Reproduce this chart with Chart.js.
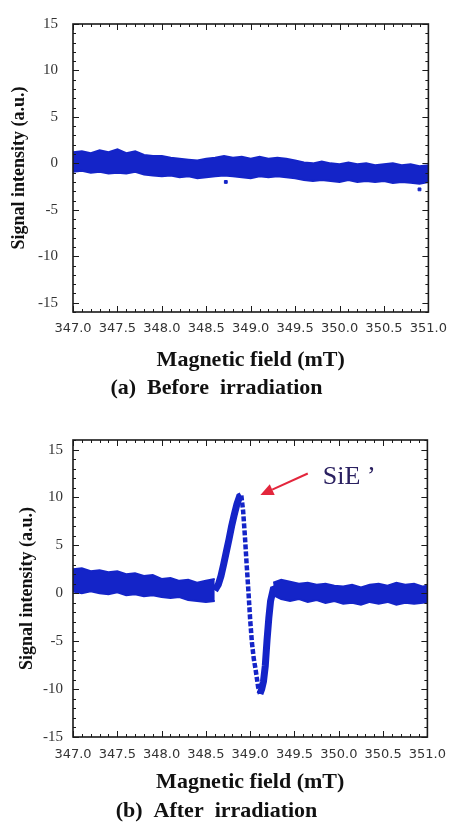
<!DOCTYPE html>
<html>
<head>
<meta charset="utf-8">
<script src="https://cdn.jsdelivr.net/npm/chart.js@4.4.1/dist/chart.umd.min.js"></script>
<style>
  body { margin: 0; background: #fff; width: 456px; height: 825px; overflow: hidden; }
  canvas { position: absolute; left: 0; }
  #before { top: 0; }
  #after { top: 420px; }
</style>
</head>
<body>
<canvas id="before" width="456" height="402"></canvas>
<canvas id="after" width="456" height="405"></canvas>
<script>
// tick labels
const xTickLabels = [347.0, 347.5, 348.0, 348.5, 349.0, 349.5, 350.0, 350.5, 351.0];
const yTickLabels = [-15, -10, -5, 0, 5, 10, 15];

const beforeField = [347.0, 347.1, 347.2, 347.3, 347.4, 347.5, 347.6, 347.7, 347.8, 347.9,
  348.0, 348.1, 348.2, 348.3, 348.4, 348.5, 348.6, 348.7, 348.8, 348.9,
  349.0, 349.1, 349.2, 349.3, 349.4, 349.5, 349.6, 349.7, 349.8, 349.9,
  350.0, 350.1, 350.2, 350.3, 350.4, 350.5, 350.6, 350.7, 350.8, 350.9, 351.0];
const beforeUpper = [1.2, 1.3, 1.1, 1.4, 1.2, 1.5, 1.1, 1.3, 0.9, 0.8,
  0.8, 0.6, 0.5, 0.4, 0.3, 0.5, 0.6, 0.8, 0.6, 0.7,
  0.5, 0.7, 0.5, 0.6, 0.5, 0.3, 0.1, 0.0, 0.2, 0.0,
  -0.1, 0.1, -0.1, 0.0, -0.2, -0.1, 0.0, -0.2, -0.1, -0.3, -0.2];
const beforeLower = [-0.9, -0.8, -1.0, -0.9, -1.1, -1.0, -1.1, -0.9, -1.2, -1.3,
  -1.4, -1.3, -1.5, -1.4, -1.6, -1.5, -1.4, -1.3, -1.4, -1.5,
  -1.6, -1.4, -1.5, -1.4, -1.5, -1.6, -1.8, -1.9, -1.8, -1.9,
  -2.0, -1.8, -2.0, -1.9, -2.0, -1.9, -2.1, -2.0, -2.1, -2.2, -2.0];
const beforeOutField = [348.72, 350.9];
const beforeOutValue = [-2.0, -2.8];

// (b) after irradiation
const afterLeftField = [347.0, 347.1, 347.2, 347.3, 347.4, 347.5, 347.6, 347.7, 347.8, 347.9,
  348.0, 348.1, 348.2, 348.3, 348.4, 348.5, 348.6];
const afterLeftUpper = [2.5, 2.6, 2.3, 2.4, 2.2, 2.3, 2.0, 2.1, 1.8, 1.9, 1.5, 1.6, 1.3, 1.4, 1.1, 1.3, 1.5];
const afterLeftLower = [0.2, 0.0, 0.2, 0.0, -0.1, 0.1, -0.2, -0.1, -0.3, -0.2, -0.4, -0.5, -0.4, -0.7, -0.8, -0.9, -0.8];

const afterSignalField = [348.60, 348.64, 348.67, 348.70, 348.73, 348.76, 348.79, 348.82, 348.85, 348.88,
  348.90, 348.92, 348.94, 348.96, 348.98, 349.00, 349.02, 349.04, 349.06, 349.09,
  349.11, 349.13, 349.15, 349.17, 349.19, 349.21, 349.23, 349.26, 349.29];
const afterSignalValue = [0.3, 0.9, 1.8, 3.0, 4.3, 5.6, 7.0, 8.2, 9.3, 10.1,
  10.2, 8.6, 6.0, 3.0, 0.2, -2.8, -5.2, -6.8, -7.9, -9.8,
  -10.5, -10.0, -9.2, -7.6, -4.9, -2.6, -0.8, 0.4, 0.5];

const afterRightField = [349.26, 349.35, 349.45, 349.55, 349.65, 349.75, 349.85, 349.95, 350.05, 350.15,
  350.25, 350.35, 350.45, 350.55, 350.65, 350.75, 350.85, 350.95, 351.0];
const afterRightUpper = [1.1, 1.4, 1.2, 1.0, 1.1, 0.9, 1.0, 0.8, 0.7, 0.9, 0.6, 0.9, 1.0, 0.8, 1.1, 0.9, 1.0, 0.7, 0.8];
const afterRightLower = [-0.2, -0.6, -0.8, -0.6, -0.9, -0.7, -1.0, -0.8, -1.1, -1.0, -1.2, -0.9, -1.1, -0.9, -1.2, -1.0, -1.1, -1.0, -0.9];

const blue = '#1424c8';
const pts = (xs, ys) => xs.map((x, i) => ({ x: x, y: ys[i] }));

const edge = (xs, ys, fill) => ({
  data: pts(xs, ys),
  borderColor: blue,
  backgroundColor: blue,
  borderWidth: 2,
  pointRadius: 0,
  fill: fill,
  tension: 0
});

// frame with inward ticks on all four sides
const frame = {
  id: 'frame',
  afterDatasetsDraw(chart) {
    const { ctx, chartArea: a, scales: { x, y } } = chart;
    ctx.save();
    ctx.strokeStyle = '#1a1a1a';
    ctx.lineWidth = 1;
    ctx.beginPath();
    for (let v = 3470; v <= 3510; v++) {
      const px = Math.round(x.getPixelForValue(v / 10)) + 0.5;
      const len = v % 5 === 0 ? 6 : 3;
      ctx.moveTo(px, a.bottom); ctx.lineTo(px, a.bottom - len);
      ctx.moveTo(px, a.top); ctx.lineTo(px, a.top + len);
    }
    for (let v = Math.ceil(y.min); v <= y.max; v++) {
      const py = Math.round(y.getPixelForValue(v)) + 0.5;
      const len = v % 5 === 0 ? 6 : 3;
      ctx.moveTo(a.left, py); ctx.lineTo(a.left + len, py);
      ctx.moveTo(a.right, py); ctx.lineTo(a.right - len, py);
    }
    ctx.stroke();
    ctx.lineWidth = 1.6;
    ctx.strokeRect(a.left, a.top, a.right - a.left, a.bottom - a.top);
    ctx.restore();
  }
};

function makeOptions(cfg) {
  return {
    responsive: false,
    animation: false,
    layout: { padding: { top: cfg.top, right: 23, left: 0, bottom: 0 } },
    plugins: {
      legend: { display: false },
      tooltip: { enabled: false },
      title: {
        display: true,
        position: 'bottom',
        text: cfg.caption,
        color: '#111',
        font: { family: "'Liberation Serif', serif", size: 22, weight: 'bold' },
        padding: 0
      }
    },
    scales: {
      x: {
        type: 'linear', min: 347, max: 351,
        grid: { display: false, drawTicks: false },
        border: { display: false },
        afterBuildTicks: s => { s.ticks = xTickLabels.map(v => ({ value: v })); },
        afterFit: s => { s.height = cfg.xHeight; },
        ticks: {
          autoSkip: false, maxRotation: 0, padding: cfg.xTickPad,
          color: '#333',
          font: { family: "'DejaVu Sans', sans-serif", size: 13 },
          callback: v => Number(v).toFixed(1)
        },
        title: {
          display: true,
          text: 'Magnetic field (mT)',
          color: '#111',
          font: { family: "'Liberation Serif', serif", size: 22, weight: 'bold' },
          padding: { top: 0, bottom: cfg.xTitlePad }
        }
      },
      y: {
        min: cfg.yMin, max: cfg.yMax,
        grid: { display: false, drawTicks: false },
        border: { display: false },
        afterBuildTicks: s => { s.ticks = yTickLabels.map(v => ({ value: v })); },
        afterFit: s => { s.width = 73; },
        ticks: {
          padding: cfg.yTickPad,
          color: '#333',
          font: { family: "'Liberation Serif', serif", size: 15 },
          callback: v => String(v)
        },
        title: {
          display: true,
          text: 'Signal intensity (a.u.)',
          color: '#111',
          font: { family: "'Liberation Serif', serif", size: 18, weight: 'bold' },
          padding: { top: cfg.yTitlePad, bottom: 0 }
        }
      }
    }
  };
}

new Chart(document.getElementById('before'), {
  type: 'line',
  data: {
    datasets: [
      edge(beforeField, beforeLower, false),
      edge(beforeField, beforeUpper, '-1'),
      {
        type: 'scatter',
        data: pts(beforeOutField, beforeOutValue),
        pointStyle: 'rect', pointRadius: 2,
        backgroundColor: blue, borderColor: blue
      }
    ]
  },
  options: makeOptions({
    top: 16, caption: '(a)  Before  irradiation',
    xHeight: 63.6, xTickPad: 9, xTitlePad: 2,
    yMin: -16, yMax: 15, yTickPad: 15, yTitlePad: 9
  }),
  plugins: [frame]
});

// arrow + label for the SiE' line, in data units
const sieNote = { tailX: 349.65, tailY: 12.5, tipX: 349.115, tipY: 10.26, textX: 349.82, textY: 12.1, text: 'SiE \u2019' };

const sieArrow = {
  id: 'sieArrow',
  afterDatasetsDraw(chart) {
    const { ctx, scales: { x, y } } = chart;
    const x0 = x.getPixelForValue(sieNote.tailX), y0 = y.getPixelForValue(sieNote.tailY);
    const x1 = x.getPixelForValue(sieNote.tipX), y1 = y.getPixelForValue(sieNote.tipY);
    const ang = Math.atan2(y1 - y0, x1 - x0);
    const head = 13, half = 6;
    const bx = x1 - head * Math.cos(ang), by = y1 - head * Math.sin(ang);
    ctx.save();
    ctx.strokeStyle = '#e3263c';
    ctx.fillStyle = '#e3263c';
    ctx.lineWidth = 2;
    ctx.beginPath();
    ctx.moveTo(x0, y0);
    ctx.lineTo(bx, by);
    ctx.stroke();
    ctx.beginPath();
    ctx.moveTo(x1, y1);
    ctx.lineTo(bx + half * Math.sin(ang), by - half * Math.cos(ang));
    ctx.lineTo(bx - half * Math.sin(ang), by + half * Math.cos(ang));
    ctx.closePath();
    ctx.fill();
    ctx.fillStyle = '#2a2060';
    ctx.font = "26px 'Liberation Serif', serif";
    ctx.textBaseline = 'middle';
    ctx.textAlign = 'left';
    ctx.fillText(sieNote.text, x.getPixelForValue(sieNote.textX), y.getPixelForValue(sieNote.textY));
    ctx.restore();
  }
};

// the steep falling part looks dotted in the scan, the rising part is a thick band
const falling = c => c.p1.parsed.y < c.p0.parsed.y - 0.5;

new Chart(document.getElementById('after'), {
  type: 'line',
  data: {
    datasets: [
      edge(afterLeftField, afterLeftLower, false),
      edge(afterLeftField, afterLeftUpper, '-1'),
      edge(afterRightField, afterRightLower, false),
      edge(afterRightField, afterRightUpper, '-1'),
      {
        data: pts(afterSignalField, afterSignalValue),
        borderColor: blue,
        borderWidth: 5,
        pointRadius: 0,
        fill: false,
        tension: 0,
        segment: {
          borderDash: c => (falling(c) ? [5, 2] : undefined),
          borderWidth: c => (falling(c) ? 4.5 : 7)
        }
      }
    ]
  },
  options: makeOptions({
    top: 20, caption: '(b)  After  irradiation',
    xHeight: 61.6, xTickPad: 10, xTitlePad: 3,
    yMin: -15, yMax: 16, yTickPad: 10, yTitlePad: 17
  }),
  plugins: [frame, sieArrow]
});
</script>
</body>
</html>
